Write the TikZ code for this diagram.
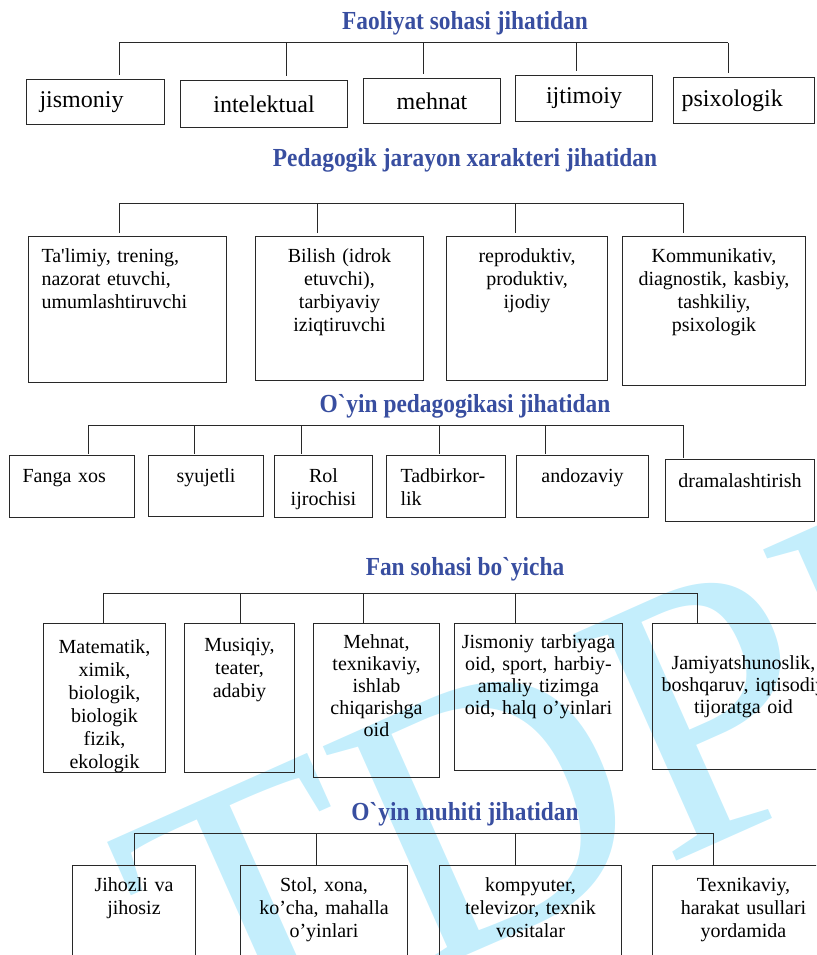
\documentclass[tikz,border=0pt]{standalone}
\usepackage{fontspec}
\setmainfont{Liberation Serif}
\newfontfamily\headfont{Liberation Serif}[FakeStretch=0.9]
\definecolor{headblue}{RGB}{56,78,160}
\definecolor{markcyan}{RGB}{196,238,252}
\definecolor{linegray}{RGB}{40,40,40}

\begin{document}
\begin{tikzpicture}[x=1pt, y=-1pt,
  head/.style={font=\headfont\bfseries\fontsize{26}{28}\selectfont, text=headblue, anchor=base, inner sep=0pt},
  big/.style={draw=linegray, line width=1pt, anchor=north west, inner xsep=0pt, inner ysep=0pt, align=center, font=\fontsize{24}{28}\selectfont},
  box/.style={draw=linegray, line width=1pt, anchor=north west, inner xsep=0pt, inner ysep=0pt, align=center, font=\fontsize{20}{23}\selectfont},
  wire/.style={draw=linegray, line width=1pt},
  wmark/.style={font=\fontsize{380}{380}\selectfont, text=markcyan, rotate=24, anchor=base west, inner sep=0pt}]
\useasboundingbox (0,0) rectangle (816,955);
\clip (0,0) rectangle (816,955);

% watermark
\node[wmark] (logo) at (202,1073) {TDPU};

% Faoliyat sohasi
\node[head] (t1) at (465,30) {Faoliyat sohasi jihatidan};
\node[big, text width=112pt, inner xsep=13pt, align=left, minimum height=45pt] (p11) at (26,79) {jismoniy};
\node[big, text width=167pt, minimum height=47pt] (p12) at (180,80) {intelektual};
\node[big, text width=137pt, minimum height=45pt] (p13) at (363,78) {mehnat};
\node[big, text width=137pt, minimum height=46pt] (p14) at (515,75) {ijtimoiy};
\node[big, text width=125pt, inner xsep=8pt, align=left, minimum height=46pt] (p15) at (673,77) {psixologik};
\foreach \x [count=\i] in {119,286,423,576,728} \coordinate (a\i) at (\x,43);
\draw[wire] (a1) -- (a5);
\foreach \i in {1,...,5} \draw[wire, shorten >=4pt] (a\i) -- (a\i |- p1\i.north);

% Pedagogik jarayon
\node[head] (t2) at (465,166) {Pedagogik jarayon xarakteri jihatidan};
\node[box, text width=172pt, inner xsep=13pt, align=left, text height=26pt, text depth=120pt] (p21) at (28,236) {Ta\textquotesingle limiy, trening,\\ nazorat etuvchi,\\ umumlashtiruvchi};
\node[box, text width=168pt, text height=26pt, text depth=118pt] (p22) at (255,236) {Bilish (idrok\\ etuvchi),\\ tarbiyaviy\\ iziqtiruvchi};
\node[box, text width=161pt, text height=26pt, text depth=118pt] (p23) at (446,236) {reproduktiv,\\ produktiv,\\ ijodiy};
\node[box, text width=183pt, text height=26pt, text depth=123pt] (p24) at (622,236) {Kommunikativ,\\ diagnostik, kasbiy,\\ tashkiliy,\\ psixologik};
\foreach \x [count=\i] in {119,317,515,683} \coordinate (b\i) at (\x,203);
\draw[wire] (b1) -- (b4);
\foreach \i in {1,...,4} \draw[wire, shorten >=3pt] (b\i) -- (b\i |- p2\i.north);

% O`yin pedagogikasi
\node[head] (t3) at (465,412) {O\textasciigrave yin pedagogikasi jihatidan};
\node[box, text width=99pt, inner xsep=13pt, align=left, text height=27pt, text depth=35pt] (p31) at (9,455) {Fanga xos};
\node[box, text width=115pt, text height=27pt, text depth=34pt] (p32) at (148,455) {syujetli};
\node[box, text width=98pt, text height=27pt, text depth=35pt] (p33) at (274,455) {Rol\\ ijrochisi};
\node[box, text width=91pt, inner xsep=14pt, align=left, text height=27pt, text depth=35pt] (p34) at (386,455) {Tadbirkor-\\lik};
\node[box, text width=132pt, text height=27pt, text depth=35pt] (p35) at (516,455) {andozaviy};
\node[box, text width=149pt, text height=28pt, text depth=34pt] (p36) at (665,459) {dramalashtirish};
\foreach \x [count=\i] in {88,194,301,439,545,683} \coordinate (c\i) at (\x,425);
\draw[wire] (c1) -- (c6);
\foreach \i in {1,...,6} \draw[wire, shorten >=1pt] (c\i) -- (c\i |- p3\i.north);

% Fan sohasi
\node[head] (t4) at (465,575) {Fan sohasi bo\textasciigrave yicha};
\node[box, text width=122pt, text height=30pt, text depth=119pt] (p41) at (43,623) {Matematik,\\ ximik,\\ biologik,\\ biologik\\ fizik,\\ ekologik};
\node[box, text width=110pt, text height=28pt, text depth=121pt] (p42) at (184,623) {Musiqiy,\\ teater,\\ adabiy};
\node[box, text width=126pt, text height=25pt, text depth=129pt, font=\fontsize{20}{22}\selectfont] (p43) at (313,623) {Mehnat,\\ texnikaviy,\\ ishlab\\ chiqarishga\\ oid};
\node[box, text width=168pt, text height=25pt, text depth=122pt, font=\fontsize{20}{22}\selectfont] (p44) at (454,623) {Jismoniy tarbiyaga\\ oid, sport, harbiy-\\ amaliy tizimga\\ oid, halq o’yinlari};
\node[box, text width=182pt, text height=46pt, text depth=100pt, font=\fontsize{20}{22}\selectfont] (p45) at (652,623) {Jamiyatshunoslik,\\ boshqaruv, iqtisodiy\\ tijoratga oid};
\foreach \x [count=\i] in {103,240,363,515,697} \coordinate (d\i) at (\x,593);
\draw[wire] (d1) -- (d5);
\foreach \i in {1,...,5} \draw[wire] (d\i) -- (d\i |- p4\i.north);

% O`yin muhiti
\node[head] (t5) at (465,820) {O\textasciigrave yin muhiti jihatidan};
\node[box, text width=123pt, text height=26pt, text depth=90pt] (p51) at (72,865) {Jihozli va\\ jihosiz};
\node[box, text width=167pt, text height=26pt, text depth=90pt] (p52) at (240,865) {Stol, xona,\\ ko’cha, mahalla\\ o’yinlari};
\node[box, text width=182pt, text height=26pt, text depth=90pt] (p53) at (439,865) {kompyuter,\\ televizor, texnik\\ vositalar};
\node[box, text width=182pt, text height=26pt, text depth=90pt] (p54) at (652,865) {Texnikaviy,\\ harakat usullari\\ yordamida};
\foreach \x [count=\i] in {134,316,515,713} \coordinate (e\i) at (\x,833);
\draw[wire] (e1) -- (e4);
\foreach \i in {1,...,4} \draw[wire] (e\i) -- (e\i |- p5\i.north);
\end{tikzpicture}
\end{document}
